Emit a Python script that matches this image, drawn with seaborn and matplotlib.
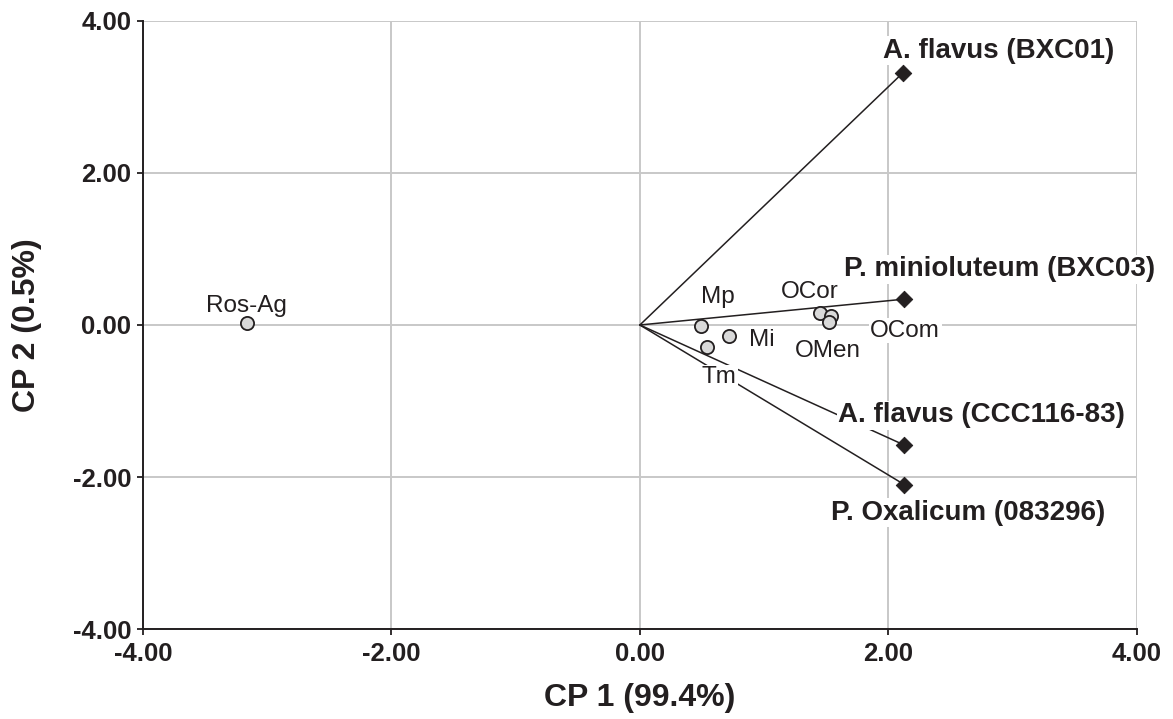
import pandas as pd
import seaborn as sns
import matplotlib.pyplot as plt

# sample scores (circles)
samples = ["Ros-Ag", "Mp", "Mi", "Tm", "OCor", "OCom", "OMen"]
samp_x = [-3.16, 0.49, 0.72, 0.54, 1.45, 1.54, 1.52]
samp_y = [0.03, -0.01, -0.15, -0.29, 0.16, 0.12, 0.04]

# strain loadings (diamonds + vectors)
strains = ["A. flavus (BXC01)", "P. minioluteum (BXC03)", "A. flavus (CCC116-83)", "P. Oxalicum (083296)"]
strain_x = [2.12, 2.13, 2.13, 2.13]
strain_y = [3.32, 0.34, -1.58, -2.10]

# label offsets in pixels (placement only), text baseline relative to the mark
samp_off = {"Ros-Ag": (-1, 11), "Mp": (17, 23), "Mi": (33, -10), "Tm": (12, -36),
            "OCor": (-10, 15), "OCom": (74, -21), "OMen": (-1, -35)}
strain_off = {"A. flavus (BXC01)": (95, 15), "P. minioluteum (BXC03)": (95, 23),
              "A. flavus (CCC116-83)": (77, 23), "P. Oxalicum (083296)": (64, -35)}

sns.set_style("white")
plt.rcParams['font.family'] = ['Liberation Sans', 'DejaVu Sans']
txt = "#231f20"

df_s = pd.DataFrame({"x": samp_x, "y": samp_y, "name": samples})
df_v = pd.DataFrame({"x": strain_x, "y": strain_y, "name": strains})

fig = plt.figure(figsize=(11.73, 7.19), dpi=100)
ax = fig.add_axes([0.122, 0.125, 0.847, 0.846])

ticks = [-4, -2, 0, 2, 4]
for t in ticks:
    ax.axvline(t, color="#c8c8c8", lw=1.4, zorder=0)
    ax.axhline(t, color="#c8c8c8", lw=1.4, zorder=0)

for _, r in df_v.iterrows():
    ax.plot([0, r.x], [0, r.y], color=txt, lw=1.1, zorder=2)

sns.scatterplot(data=df_v, x="x", y="y", marker="D", s=70, color=txt,
                edgecolor=txt, ax=ax, zorder=4)
sns.scatterplot(data=df_s, x="x", y="y", marker="o", s=90, color="#d9d9d9",
                edgecolor=txt, linewidth=1.3, ax=ax, zorder=4)

for _, r in df_s.iterrows():
    ax.annotate(r["name"], (r.x, r.y), xytext=samp_off[r["name"]], textcoords="offset pixels",
                ha="center", va="baseline", fontsize=17.5, color=txt, zorder=3,
                bbox=dict(facecolor="white", edgecolor="none", pad=1))
for _, r in df_v.iterrows():
    ax.annotate(r["name"], (r.x, r.y), xytext=strain_off[r["name"]], textcoords="offset pixels",
                ha="center", va="baseline", fontsize=20, fontweight="bold", color=txt, zorder=3,
                bbox=dict(facecolor="white", edgecolor="none", pad=1))

ax.set_xlim(-4, 4)
ax.set_ylim(-4, 4)
ax.set_xticks(ticks)
ax.set_yticks(ticks)
ax.set_xticklabels([f"{v:.2f}" for v in ticks], fontweight="bold", fontsize=18.5, color=txt)
ax.set_yticklabels([f"{v:.2f}" for v in ticks], fontweight="bold", fontsize=18.5, color=txt)
ax.tick_params(axis="both", direction="out", length=4.5, width=1.3, color=txt, left=True, bottom=True)
ax.tick_params(axis="x", pad=4.5)
ax.tick_params(axis="y", pad=4)
sns.despine(ax=ax)
for s in ["left", "bottom"]:
    ax.spines[s].set_color(txt)
    ax.spines[s].set_linewidth(1.4)

ax.set_xlabel("CP 1 (99.4%)", fontweight="bold", fontsize=23, color=txt, va="center")
ax.set_ylabel("CP 2 (0.5%)", fontweight="bold", fontsize=23, color=txt, va="center")
ax.xaxis.set_label_coords(0.5, -0.1135)
ax.yaxis.set_label_coords(-0.1167, 0.5)

fig.savefig("out.png", dpi=100)
